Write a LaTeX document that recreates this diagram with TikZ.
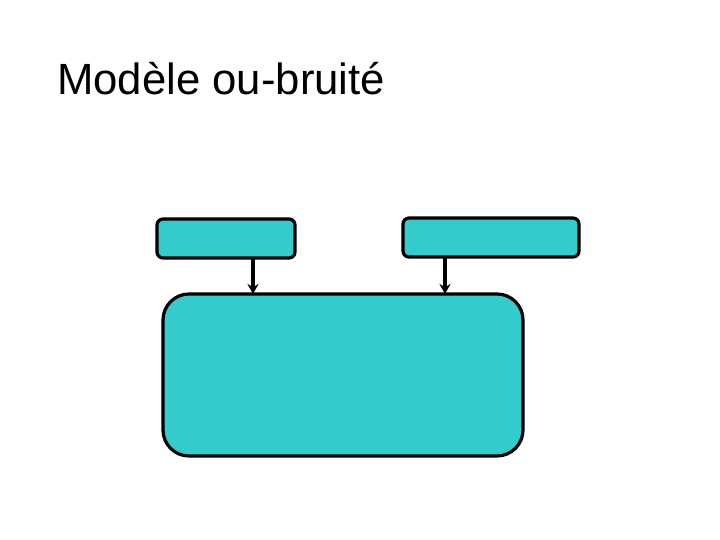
\documentclass[tikz,border=0pt]{standalone}
\usepackage{fontspec}
\setmainfont{Liberation Sans}
\usetikzlibrary{arrows.meta}
\definecolor{teal1}{HTML}{33CCCC}
\tikzset{
  boxsmall/.style={draw=black, fill=teal1, line width=3.2pt, rounded corners=6pt},
  boxbig/.style={draw=black, fill=teal1, line width=3.2pt, rounded corners=26pt},
  conn/.style={draw=black, line width=3.5pt, -{Stealth[length=10pt,width=11pt]}}
}
\begin{document}
\begin{tikzpicture}[x=1pt,y=-1pt]
\useasboundingbox (0,0) rectangle (720,540);
\node[anchor=base west, inner sep=0pt, font=\fontsize{43.7}{48}\selectfont] (title) at (57,95) {Modèle ou-bruité};
\draw[boxsmall] (157,219) rectangle (295,258);
\coordinate (a1) at (253,258);
\draw[boxsmall] (403,218) rectangle (579,257);
\coordinate (a2) at (445,257);
\draw[boxbig] (163,294) rectangle (523,456);
\coordinate (b1) at (253,294);
\coordinate (b2) at (445,294);
\draw[conn] (a1) -- (b1);
\draw[conn] (a2) -- (b2);
\end{tikzpicture}
\end{document}
